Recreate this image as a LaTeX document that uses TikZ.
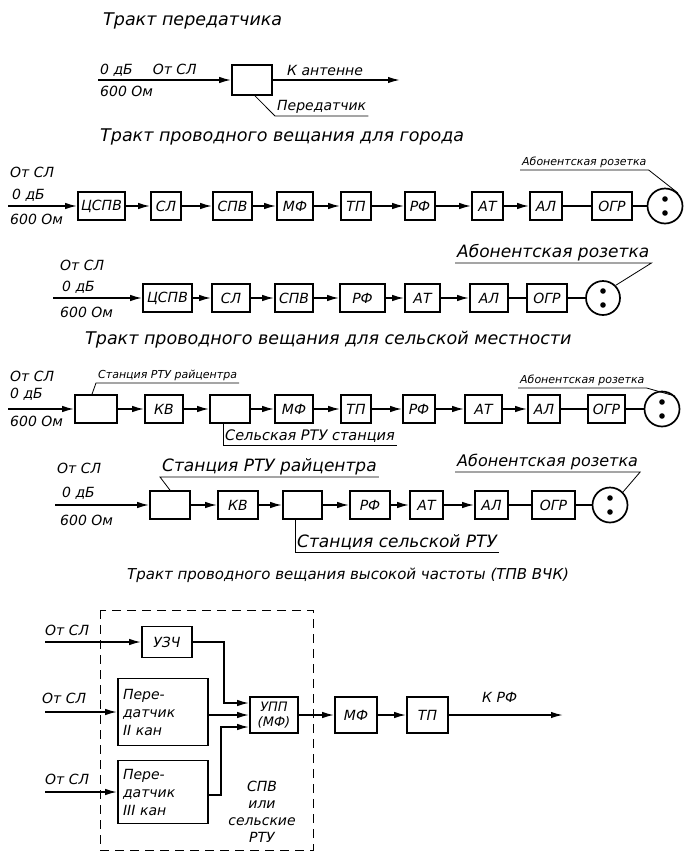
\documentclass[tikz,border=0pt]{standalone}
\usepackage{fontspec}
\setmainfont{DejaVu Sans}[ItalicFont={DejaVu Sans Oblique}]
\usetikzlibrary{arrows.meta}
\newcommand{\gfont}[2]{\fontsize{#1}{#2}\selectfont\itshape}

\begin{document}
\begin{tikzpicture}[
    x=1pt, y=-1pt,
    blk/.style={draw, line width=1.7pt, minimum height=28pt, inner sep=1pt,
                font=\gfont{14}{15}},
    ttl/.style={anchor=west, inner sep=0pt, font=\gfont{17.5}{20}},
    txt/.style={anchor=west, inner sep=0pt, font=\gfont{14}{16}},
    note/.style={anchor=south west, inner xsep=2pt, inner ysep=2pt},
    rozetka/.style={circle, draw, line width=1.7pt, minimum size=35pt, inner sep=0pt,
                    path picture={
                      \fill ([yshift=7pt]path picture bounding box.center) circle (2.8pt)
                            ([yshift=-7pt]path picture bounding box.center) circle (2.8pt);}},
    arr/.style={line width=1.6pt, -{Latex[length=12pt,width=6.5pt]}},
    ln/.style={line width=1.6pt},
    lead/.style={line width=0.8pt},
  ]
  \useasboundingbox (0,0) rectangle (684,855);

  % tract of the transmitter
  \node[ttl] (t1) at (103,21) {Тракт передатчика};
  \node[blk, minimum width=40pt, minimum height=30pt] (tx) at (252,80) {};
  \coordinate (in0) at (98,80);
  \coordinate (out0) at (400,80);
  \draw[arr] (in0) -- (tx);
  \draw[arr] (tx) -- (out0);
  \node[txt] (in0a) at (100,70) {0 дБ\hspace{20pt}От СЛ};
  \node[txt] (in0b) at (100,91) {600 Ом};
  \node[txt] (ant) at (287,70) {К антенне};
  \node[note, font=\gfont{14}{16}] (prd) at (275,116) {Передатчик};
  \draw[lead] ([xshift=3pt]tx.south) -- (prd.south west) -- (prd.south east);

  % wired broadcasting, town
  \node[ttl] (t2) at (100,137) {Тракт проводного вещания для города};
  \node[blk, minimum width=47pt] (r1a) at (101.5,206) {ЦСПВ};
  \node[blk, minimum width=30pt] (r1b) at (166,206) {СЛ};
  \node[blk, minimum width=39pt] (r1c) at (232.5,206) {СПВ};
  \node[blk, minimum width=36pt] (r1d) at (295,206) {МФ};
  \node[blk, minimum width=30pt] (r1e) at (356,206) {ТП};
  \node[blk, minimum width=30pt] (r1f) at (420,206) {РФ};
  \node[blk, minimum width=31pt] (r1g) at (487.5,206) {АТ};
  \node[blk, minimum width=32pt] (r1h) at (546,206) {АЛ};
  \node[blk, minimum width=40pt] (r1i) at (612,206) {ОГР};
  \node[rozetka] (r1r) at (665,206) {};
  \coordinate (in1) at (8,206);
  \draw[arr] (in1) -- (r1a);
  \foreach \a/\b in {a/b,b/c,c/d,d/e,e/f,f/g,g/h}
    \draw[arr] (r1\a) -- (r1\b);
  \draw[ln] (r1h) -- (r1i);
  \draw[ln] (r1i) -- (r1r);
  \node[txt] (in1a) at (10,172) {От СЛ};
  \node[txt] (in1b) at (12,195) {0 дБ};
  \node[txt] (in1c) at (10,219) {600 Ом};
  \node[note, font=\gfont{11}{13}] (ab1) at (520,170) {Абонентская розетка};
  \draw[lead] (ab1.south west) -- (ab1.south east) -- (r1r.north east);

  \node[blk, minimum width=49pt] (r2a) at (167.5,298) {ЦСПВ};
  \node[blk, minimum width=38pt] (r2b) at (231,298) {СЛ};
  \node[blk, minimum width=38pt] (r2c) at (294,298) {СПВ};
  \node[blk, minimum width=45pt] (r2d) at (362.5,298) {РФ};
  \node[blk, minimum width=35pt] (r2e) at (422.5,298) {АТ};
  \node[blk, minimum width=38pt] (r2f) at (489,298) {АЛ};
  \node[blk, minimum width=40pt] (r2g) at (547,298) {ОГР};
  \node[rozetka, minimum size=34pt] (r2r) at (603,298) {};
  \coordinate (in2) at (53,298);
  \draw[arr] (in2) -- (r2a);
  \foreach \a/\b in {a/b,b/c,c/d,d/e,e/f}
    \draw[arr] (r2\a) -- (r2\b);
  \draw[ln] (r2f) -- (r2g);
  \draw[ln] (r2g) -- (r2r);
  \node[txt] (in2a) at (60,265) {От СЛ};
  \node[txt] (in2b) at (62,287) {0 дБ};
  \node[txt] (in2c) at (60,312) {600 Ом};
  \node[note, font=\gfont{17}{19}] (ab2) at (455,263) {Абонентская розетка};
  \draw[lead] (ab2.south west) -- (ab2.south east) -- (r2r.north east);

  % wired broadcasting, countryside
  \node[ttl] (t3) at (85,340) {Тракт проводного вещания для сельской местности};
  \node[blk, minimum width=42pt] (r3a) at (96,409) {};
  \node[blk, minimum width=38pt] (r3b) at (164,409) {КВ};
  \node[blk, minimum width=40pt] (r3c) at (230,409) {};
  \node[blk, minimum width=38pt] (r3d) at (294,409) {МФ};
  \node[blk, minimum width=30pt] (r3e) at (356,409) {ТП};
  \node[blk, minimum width=32pt] (r3f) at (419,409) {РФ};
  \node[blk, minimum width=37pt] (r3g) at (483.5,409) {АТ};
  \node[blk, minimum width=32pt] (r3h) at (544,409) {АЛ};
  \node[blk, minimum width=37pt] (r3i) at (606.5,409) {ОГР};
  \node[rozetka] (r3r) at (662,409) {};
  \coordinate (in3) at (8,409);
  \draw[arr] (in3) -- (r3a);
  \foreach \a/\b in {a/b,b/c,c/d,d/e,e/f,f/g,g/h}
    \draw[arr] (r3\a) -- (r3\b);
  \draw[ln] (r3h) -- (r3i);
  \draw[ln] (r3i) -- (r3r);
  \node[txt] (in3a) at (10,376) {От СЛ};
  \node[txt] (in3b) at (10,394) {0 дБ};
  \node[txt] (in3c) at (10,421) {600 Ом};
  \node[note, font=\gfont{11}{13}] (rc3) at (96,383) {Станция РТУ райцентра};
  \draw[lead] ([xshift=-4pt]r3a.north) -- (rc3.south west) -- (rc3.south east);
  \node[note, font=\gfont{14.5}{16}] (sel3) at (223,445) {Сельская РТУ станция};
  \draw[lead] (sel3.south west |- r3c.south) -- (sel3.south west) -- (sel3.south east);
  \node[note, font=\gfont{11}{13}] (ab3) at (518,388) {Абонентская розетка};
  \draw[lead] (ab3.south west) -- (ab3.south east) -- (r3r.north east);

  \node[blk, minimum width=40pt] (r4a) at (170,505) {};
  \node[blk, minimum width=40pt] (r4b) at (238,505) {КВ};
  \node[blk, minimum width=39pt] (r4c) at (302.5,505) {};
  \node[blk, minimum width=40pt] (r4d) at (370,505) {РФ};
  \node[blk, minimum width=33pt] (r4e) at (426.5,505) {АТ};
  \node[blk, minimum width=33pt] (r4f) at (491.5,505) {АЛ};
  \node[blk, minimum width=43pt] (r4g) at (553.5,505) {ОГР};
  \node[rozetka] (r4r) at (610,505) {};
  \coordinate (in4) at (55,505);
  \draw[arr] (in4) -- (r4a);
  \foreach \a/\b in {a/b,b/c,c/d,d/e,e/f}
    \draw[arr] (r4\a) -- (r4\b);
  \draw[ln] (r4f) -- (r4g);
  \draw[ln] (r4g) -- (r4r);
  \node[txt] (in4a) at (57,468) {От СЛ};
  \node[txt] (in4b) at (62,493) {0 дБ};
  \node[txt] (in4c) at (60,520) {600 Ом};
  \node[note, font=\gfont{17}{19}] (rc4) at (160,477) {Станция РТУ райцентра};
  \draw[lead] (r4a.north) -- (rc4.south west) -- (rc4.south east);
  \node[note, font=\gfont{17}{19}] (sel4) at (295,552) {Станция сельской РТУ};
  \draw[lead] (sel4.south west |- r4c.south) -- (sel4.south west) -- (sel4.south east);
  \node[note, font=\gfont{16}{18}] (ab4) at (455,472) {Абонентская розетка};
  \draw[lead] (ab4.south west) -- (ab4.south east) -- (r4r.north east);

  % high-frequency wired broadcasting
  \node[ttl, font=\gfont{15}{17}] (t4) at (127,575)
    {Тракт проводного вещания высокой частоты (ТПВ ВЧК)};
  \draw[line width=1pt, dash pattern=on 9pt off 6pt] (100,610) rectangle (313,850);
  \node[blk, minimum width=50pt, minimum height=31pt] (uzch) at (167,642) {УЗЧ};
  \node[blk, minimum width=90pt, minimum height=67pt, text width=80pt, align=left,
        font=\gfont{14}{18}] (per2) at (163,712) {Пере-\\датчик\\II кан};
  \node[blk, minimum width=90pt, minimum height=63pt, text width=80pt, align=left,
        font=\gfont{14}{18}] (per3) at (163,792) {Пере-\\датчик\\III кан};
  \node[blk, minimum width=48pt, minimum height=36pt, align=center,
        font=\gfont{13}{15}] (upp) at (274,715) {УПП\\(МФ)};
  \node[blk, minimum width=42pt, minimum height=36pt] (mf5) at (356,715) {МФ};
  \node[blk, minimum width=41pt, minimum height=36pt] (tp5) at (427.5,715) {ТП};
  \coordinate (in5) at (45,642);
  \coordinate (in6) at (45,712);
  \coordinate (in7) at (45,792);
  \coordinate (out5) at (563,715);
  \draw[arr] (in5) -- (uzch);
  \draw[arr] (in6) -- (per2);
  \draw[arr] (in7) -- (per3);
  \draw[arr] (uzch.east) -- ++(31,0) |- ([yshift=12pt]upp.west);
  \draw[arr] (per2.east |- upp.west) -- (upp.west);
  \draw[arr] ([yshift=-3pt]per3.east) -- ++(12,0) |- ([yshift=-12pt]upp.west);
  \draw[arr] (upp) -- (mf5);
  \draw[arr] (mf5) -- (tp5);
  \draw[arr] (tp5) -- (out5);
  \node[txt] (in5a) at (45,630) {От СЛ};
  \node[txt] (in6a) at (42,698) {От СЛ};
  \node[txt] (in7a) at (45,779) {От СЛ};
  \node[txt] (krf) at (482,697) {К РФ};
  \node[align=center, font=\gfont{14}{17}] (spv) at (262,812) {СПВ\\или\\сельские\\РТУ};
\end{tikzpicture}
\end{document}
